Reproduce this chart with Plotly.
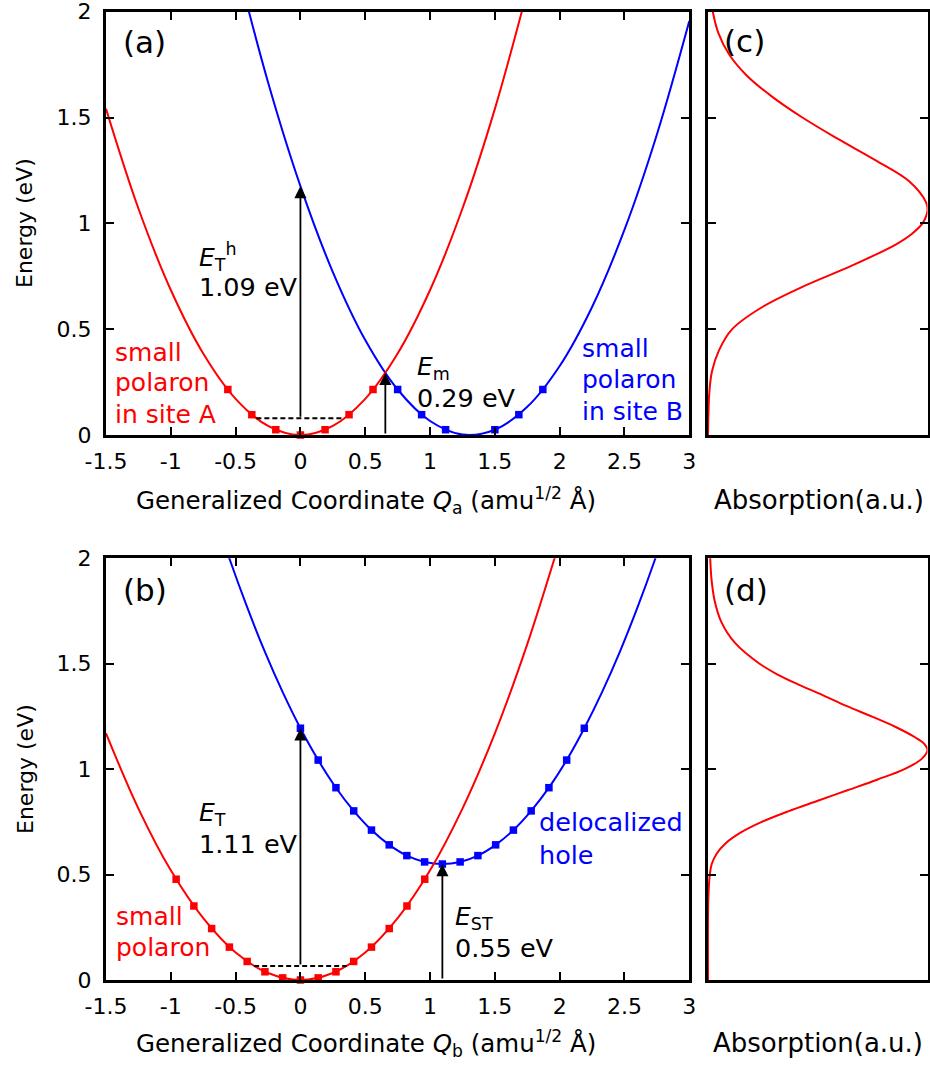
import plotly.graph_objects as go

# ---------------- data: panel (a) ----------------
qa_red = [-1.5, -1.25, -1.0, -0.75, -0.5, -0.25, 0.0, 0.25, 0.5, 0.75, 1.0, 1.25, 1.5, 1.75]
ea_red = [1.541, 1.070, 0.685, 0.385, 0.171, 0.043, 0.0, 0.043, 0.171, 0.385, 0.685, 1.070, 1.541, 2.098]
qa_blue = [-0.5, -0.25, 0.0, 0.25, 0.5, 0.75, 1.0, 1.25, 1.5, 1.75, 2.0, 2.25, 2.5, 2.75, 3.0]
ea_blue = [2.244, 1.667, 1.176, 0.770, 0.449, 0.215, 0.066, 0.002, 0.025, 0.133, 0.326, 0.605, 0.970, 1.420, 1.956]
qa_red_pts = [-0.56, -0.375, -0.19, 0.0, 0.19, 0.375, 0.56]
ea_red_pts = [0.215, 0.096, 0.025, 0.0, 0.025, 0.096, 0.215]
qa_blue_pts = [0.75, 0.935, 1.12, 1.50, 1.685, 1.87]
ea_blue_pts = [0.215, 0.096, 0.025, 0.025, 0.096, 0.215]
qa_zpe = [-0.34, 0.34]
ea_zpe = [0.079, 0.079]

# ---------------- data: panel (b) ----------------
qb_red = [-1.5, -1.25, -1.0, -0.75, -0.5, -0.25, 0.0, 0.25, 0.5, 0.75, 1.0, 1.25, 1.5, 1.75, 2.0]
eb_red = [1.170, 0.813, 0.520, 0.293, 0.130, 0.033, 0.0, 0.033, 0.130, 0.293, 0.520, 0.813, 1.170, 1.593, 2.080]
qb_red_pts = [-0.959, -0.822, -0.685, -0.548, -0.411, -0.274, -0.137, 0.0,
              0.137, 0.274, 0.411, 0.548, 0.685, 0.822, 0.959]
eb_red_pts = [0.478, 0.351, 0.244, 0.156, 0.088, 0.039, 0.010, 0.0,
              0.010, 0.039, 0.088, 0.156, 0.244, 0.351, 0.478]
qb_blue = [-0.685, -0.548, -0.411, -0.274, -0.137, 0.0, 0.137, 0.274, 0.411, 0.548, 0.685,
           0.821, 0.958, 1.095, 1.232, 1.369, 1.506, 1.643, 1.780, 1.917, 2.054, 2.190,
           2.327, 2.464, 2.601, 2.738, 2.875]
eb_blue = [2.251, 1.999, 1.768, 1.556, 1.365, 1.194, 1.043, 0.912, 0.802, 0.711, 0.641,
           0.590, 0.560, 0.550, 0.560, 0.590, 0.641, 0.711, 0.802, 0.912, 1.043, 1.194,
           1.365, 1.556, 1.768, 1.999, 2.251]
qb_blue_pts = [0.0, 0.137, 0.274, 0.411, 0.548, 0.685, 0.821, 0.958, 1.095, 1.232, 1.369,
               1.506, 1.643, 1.780, 1.917, 2.054, 2.190]
eb_blue_pts = [1.194, 1.043, 0.912, 0.802, 0.711, 0.641, 0.590, 0.560, 0.550, 0.560, 0.590,
               0.641, 0.711, 0.802, 0.912, 1.043, 1.194]
qb_zpe = [-0.357, 0.357]
eb_zpe = [0.066, 0.066]

# ---------------- data: panels (c), (d) absorption ----------------
ec_abs = [0.0, 0.1, 0.2, 0.3, 0.4, 0.5, 0.6, 0.7, 0.8, 0.9, 0.95, 1.0, 1.06, 1.1, 1.2,
          1.3, 1.4, 1.5, 1.6, 1.7, 1.8, 1.9, 2.0, 2.1]
vc_abs = [0.0, 0.002, 0.006, 0.018, 0.05, 0.11, 0.24, 0.43, 0.655, 0.855, 0.928, 0.977, 1.0,
          0.993, 0.915, 0.76, 0.59, 0.43, 0.29, 0.175, 0.095, 0.047, 0.022, 0.01]
ed_abs = [0.0, 0.3, 0.4, 0.5, 0.55, 0.6, 0.65, 0.7, 0.75, 0.8, 0.85, 0.9, 0.95, 1.0, 1.05,
          1.09, 1.12, 1.15, 1.2, 1.25, 1.3, 1.35, 1.4, 1.45, 1.5, 1.6, 1.7, 1.8, 1.9, 2.0, 2.1]
vd_abs = [0.0, 0.0, 0.002, 0.008, 0.017, 0.04, 0.082, 0.15, 0.245, 0.365, 0.5, 0.635, 0.77,
          0.895, 0.975, 1.0, 0.985, 0.945, 0.855, 0.745, 0.63, 0.525, 0.415, 0.315, 0.235,
          0.122, 0.06, 0.03, 0.016, 0.01, 0.006]

x_ticks = [-1.5, -1, -0.5, 0, 0.5, 1, 1.5, 2, 2.5, 3]
x_ticktext = ["-1.5", "-1", "-0.5", "0", "0.5", "1", "1.5", "2", "2.5", "3"]
y_ticks = [0, 0.5, 1, 1.5, 2]
y_ticktext = ["0", "0.5", "1", "1.5", "2"]

RED = "#ff0000"
BLUE = "#0000ff"
FONT = "DejaVu Sans"
W, H = 930, 1065

fig = go.Figure()

def line(x, y, color, xa, ya, spline=True, width=2, dash=None):
    fig.add_trace(go.Scatter(
        x=x, y=y, mode="lines", xaxis=xa, yaxis=ya, showlegend=False, hoverinfo="skip",
        line=dict(color=color, width=width, shape="spline" if spline else "linear",
                  dash=dash)))

def pts(x, y, color, xa, ya):
    fig.add_trace(go.Scatter(
        x=x, y=y, mode="markers", xaxis=xa, yaxis=ya, showlegend=False, hoverinfo="skip",
        cliponaxis=False,
        marker=dict(symbol="square", size=7.5, color=color, line=dict(width=0))))

# panel (a)
line(qa_blue, ea_blue, BLUE, "x", "y")
line(qa_red, ea_red, RED, "x", "y")
line(qa_zpe, ea_zpe, "black", "x", "y", spline=False, width=2, dash="5px,3px")
pts(qa_red_pts, ea_red_pts, RED, "x", "y")
pts(qa_blue_pts, ea_blue_pts, BLUE, "x", "y")

# panel (b)
line(qb_blue, eb_blue, BLUE, "x3", "y3")
line(qb_red, eb_red, RED, "x3", "y3")
line(qb_zpe, eb_zpe, "black", "x3", "y3", spline=False, width=2, dash="5px,3px")
pts(qb_red_pts, eb_red_pts, RED, "x3", "y3")
pts(qb_blue_pts, eb_blue_pts, BLUE, "x3", "y3")

# panels (c), (d)
line(vc_abs, ec_abs, RED, "x2", "y2")
line(vd_abs, ed_abs, RED, "x4", "y4")

# ---------------- layout ----------------
def px2x(px):
    return px / W

def px2y(py):
    return 1 - py / H

dom_main_x = [px2x(106), px2x(689.3)]
dom_side_x = [px2x(708), px2x(927.5)]
dom_top_y = [px2y(435), px2y(11.7)]
dom_bot_y = [px2y(980), px2y(558.3)]

tickfont = dict(family=FONT, size=22, color="black")
common = dict(showline=True, linecolor="black", linewidth=3, mirror="ticks",
              ticks="inside", ticklen=8, tickwidth=2, tickcolor="black",
              showgrid=False, zeroline=False, tickfont=tickfont, fixedrange=True,
              automargin=False, ticklabeloverflow="allow")

def main_x(anchor, dom):
    return dict(common, domain=dom, anchor=anchor, range=[-1.5, 3],
                tickmode="array", tickvals=x_ticks, ticktext=x_ticktext,
                ticklabelstandoff=5)

def main_y(anchor, dom):
    return dict(common, domain=dom, anchor=anchor, range=[0, 2],
                tickmode="array", tickvals=y_ticks, ticktext=y_ticktext,
                ticklabelstandoff=7)

def side_x(anchor, dom):
    return dict(showline=True, linecolor="black", linewidth=3, mirror=True,
                ticks="", showticklabels=False, showgrid=False, zeroline=False,
                domain=dom, anchor=anchor, range=[0, 1.0], fixedrange=True,
                automargin=False)

def side_y(anchor, dom):
    return dict(common, domain=dom, anchor=anchor, range=[0, 2], showticklabels=False,
                tickmode="array", tickvals=y_ticks)

fig.update_layout(
    width=W, height=H, margin=dict(l=0, r=0, t=0, b=0, autoexpand=False),
    paper_bgcolor="white", plot_bgcolor="white",
    font=dict(family=FONT, color="black"),
    xaxis=main_x("y", dom_main_x), yaxis=main_y("x", dom_top_y),
    xaxis2=side_x("y2", dom_side_x), yaxis2=side_y("x2", dom_top_y),
    xaxis3=main_x("y3", dom_main_x), yaxis3=main_y("x3", dom_bot_y),
    xaxis4=side_x("y4", dom_side_x), yaxis4=side_y("x4", dom_bot_y),
)

ann = []

def text(x, y, s, xr, yr, size=25, color="black", xanchor="left", yanchor="middle", angle=0):
    ann.append(dict(x=x, y=y, xref=xr, yref=yr, text=s, showarrow=False,
                    xanchor=xanchor, yanchor=yanchor, textangle=angle,
                    font=dict(family=FONT, size=size, color=color)))

def arrow(x, y0, y1, xr, yr):
    ann.append(dict(x=x, y=y1, ax=x, ay=y0, xref=xr, yref=yr, axref=xr, ayref=yr,
                    text="", showarrow=True, arrowhead=2, arrowsize=1.35, arrowwidth=1.8,
                    arrowcolor="black", standoff=0, startstandoff=0))

# panel (a) texts
text(-1.384, 1.858, "(a)", "x", "y", size=31)
text(-0.80, 0.842, "<i>E</i><sub>T</sub><sup>h</sup>", "x", "y")
text(-0.80, 0.700, "1.09 eV", "x", "y", size=25.5)
text(-1.448, 0.392, "small", "x", "y", color=RED)
text(-1.448, 0.246, "polaron", "x", "y", color=RED)
text(-1.448, 0.095, "in site A", "x", "y", color=RED)
text(0.884, 0.317, "<i>E</i><sub>m</sub>", "x", "y")
text(0.884, 0.175, "0.29 eV", "x", "y", size=25.5)
text(2.157, 0.411, "small", "x", "y", color=BLUE)
text(2.157, 0.260, "polaron", "x", "y", color=BLUE)
text(2.157, 0.109, "in site B", "x", "y", color=BLUE)
arrow(0.0, 0.079, 1.176, "x", "y")
arrow(0.655, 0.0, 0.294, "x", "y")

# panel (b) texts
text(-1.384, 1.848, "(b)", "x3", "y3", size=31)
text(-0.80, 0.787, "<i>E</i><sub>T</sub>", "x3", "y3")
text(-0.80, 0.645, "1.11 eV", "x3", "y3", size=25.5)
text(-1.438, 0.299, "small", "x3", "y3", color=RED)
text(-1.438, 0.152, "polaron", "x3", "y3", color=RED)
text(1.18, 0.294, "<i>E</i><sub>ST</sub>", "x3", "y3")
text(1.18, 0.152, "0.55 eV", "x3", "y3", size=25.5)
text(1.825, 0.749, "delocalized", "x3", "y3", color=BLUE, size=25.5)
text(1.825, 0.592, "hole", "x3", "y3", color=BLUE, size=25.5)
arrow(0.0, 0.066, 1.194, "x3", "y3")
arrow(1.095, 0.0, 0.55, "x3", "y3")

# panel (c), (d) labels
text(0.062, 1.86, "(c)", "x2", "y2", size=31)
text(0.062, 1.85, "(d)", "x4", "y4", size=31)

# axis titles
text(px2x(25), px2y(223), "Energy (eV)", "paper", "paper", size=22,
     xanchor="center", angle=-90)
text(px2x(25), px2y(769), "Energy (eV)", "paper", "paper", size=22,
     xanchor="center", angle=-90)
text(px2x(366), px2y(500), "Generalized Coordinate <i>Q</i><sub>a</sub> (amu<sup>1/2</sup> Å)",
     "paper", "paper", size=24.5, xanchor="center")
text(px2x(366), px2y(1043), "Generalized Coordinate <i>Q</i><sub>b</sub> (amu<sup>1/2</sup> Å)",
     "paper", "paper", size=24.5, xanchor="center")
text(px2x(819), px2y(500), "Absorption(a.u.)", "paper", "paper", size=26, xanchor="center")
text(px2x(818), px2y(1043), "Absorption(a.u.)", "paper", "paper", size=26, xanchor="center")

fig.update_layout(annotations=ann)
fig.write_html("out.html")
